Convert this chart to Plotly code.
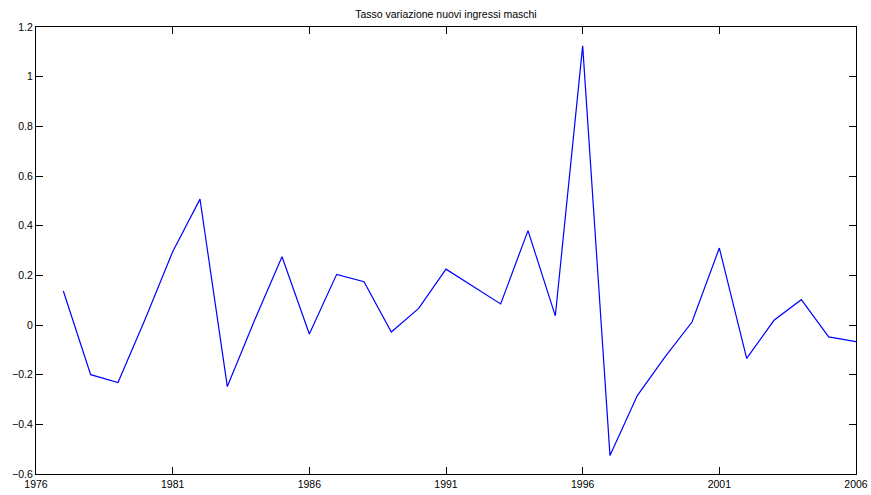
import plotly.graph_objects as go

years = list(range(1977, 2007))
values = [0.137, -0.200, -0.232, 0.025, 0.295, 0.507, -0.248, 0.020, 0.275, -0.036,
          0.204, 0.174, -0.028, 0.067, 0.225, 0.155, 0.085, 0.380, 0.037, 1.124,
          -0.526, -0.284, -0.130, 0.012, 0.310, -0.134, 0.019, 0.102, -0.048, -0.067]
x_ticks = [1976, 1981, 1986, 1991, 1996, 2001, 2006]
y_ticks = [-0.6, -0.4, -0.2, 0, 0.2, 0.4, 0.6, 0.8, 1, 1.2]
y_tick_labels = ["\u22120.6", "\u22120.4", "\u22120.2", "0", "0.2", "0.4", "0.6", "0.8", "1", "1.2"]
title = "Tasso variazione nuovi ingressi maschi"

fig = go.Figure(go.Scatter(x=years, y=values, mode="lines",
                           line=dict(color="#0000ff", width=1.2)))

axis_common = dict(showgrid=False, zeroline=False, showline=True, linecolor="black",
                   linewidth=1.2, mirror="ticks", ticks="inside", ticklen=7,
                   tickcolor="black", tickwidth=1, automargin=False,
                   tickfont=dict(family="Liberation Sans, Arial, sans-serif", size=10.5, color="black"))

fig.update_layout(
    width=871, height=495,
    margin=dict(l=36, r=15, t=27, b=21),
    paper_bgcolor="white", plot_bgcolor="white",
    showlegend=False,
    title=dict(text=title, x=0.512, xanchor="center", y=0.972, yanchor="middle",
               font=dict(family="Liberation Sans, Arial, sans-serif", size=10.5, color="black")),
    xaxis=dict(range=[1976, 2006], tickvals=x_ticks, ticktext=[str(t) for t in x_ticks], **axis_common),
    yaxis=dict(range=[-0.6, 1.2], tickvals=y_ticks, ticktext=y_tick_labels, **axis_common),
)

fig.write_html(
    "out.html",
    config={"displayModeBar": False},
    post_script="document.body.style.margin='0';document.body.style.overflow='hidden';",
)
